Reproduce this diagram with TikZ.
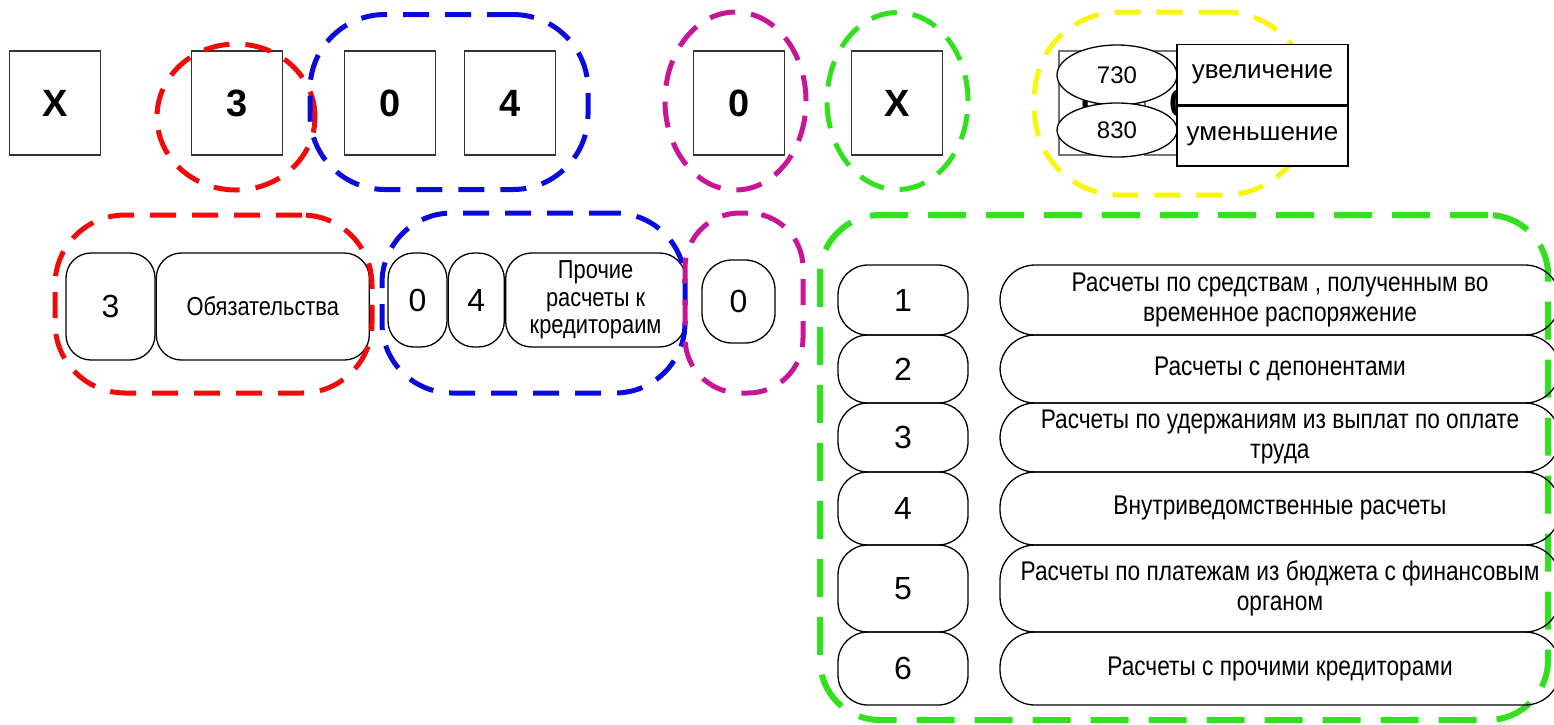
\documentclass[tikz,border=0pt]{standalone}
\usepackage{fontspec}
\setmainfont{Liberation Sans}
\newfontfamily\slimfont{Liberation Sans}[FakeStretch=0.84]
\usepackage{tikz}
\usetikzlibrary{shapes, positioning}
\definecolor{grpred}{RGB}{240,10,10}
\definecolor{grpblue}{RGB}{10,10,220}
\definecolor{grpmag}{RGB}{200,20,150}
\definecolor{grpgreen}{RGB}{50,225,30}
\definecolor{grpyellow}{RGB}{250,245,10}
\newcommand{\bigdig}{\fontsize{38}{40}\selectfont\bfseries}
\newcommand{\digfont}{\fontsize{32}{34}\selectfont}
\newcommand{\slimtext}{\slimfont\fontsize{26}{27.5}\selectfont}
\newcommand{\rowfont}{\slimfont\fontsize{27}{30}\selectfont}

\begin{document}
\begin{tikzpicture}[x=1pt, y=-1pt,
	digbox/.style={draw=black!80, line width=1.5pt, minimum width=91pt, minimum height=104pt, font=\bigdig},
	pill/.style={draw, line width=1.3pt, rounded corners=#1, inner sep=2pt, align=center},
	pill/.default=26pt,
	grp/.style={draw=#1, line width=5pt, dash pattern=on 26pt off 16pt}]
	\useasboundingbox (0,0) rectangle (1554,724);
	
	\node[digbox] (x1) at (55,103) {X};
	\node[digbox] (d3) at (237,103) {3};
	\node[digbox] (d0) at (390,103) {0};
	\node[digbox] (d4) at (510,103) {4};
	\node[digbox] (d00) at (739,103) {0};
	\node[digbox] (x2) at (897,103) {X};
	\node[digbox, draw=black!55, minimum width=66pt] (h1) at (1092,103) {0};
	\node[digbox, draw=black!55, minimum width=70pt] (h2) at (1180,103) {0};
	
	\node[grp=grpred, ellipse, minimum width=158pt, minimum height=146pt] (g3) at (236,117) {};
	\node[grp=grpblue, rounded corners=75pt, minimum width=278pt, minimum height=175pt] (g04) at (449,102) {};
	\node[grp=grpmag, ellipse, minimum width=141pt, minimum height=178pt] (g0) at (735.5,101) {};
	\node[grp=grpgreen, ellipse, minimum width=141pt, minimum height=177pt] (gx) at (897.5,101) {};
	\node[grp=grpyellow, rounded corners=85pt, minimum width=275pt, minimum height=183pt] (gy) at (1172,103.5) {};
	
	\node[draw, fill=white, ellipse, line width=1.3pt, minimum width=120pt, minimum height=60pt, font=\fontsize{24}{26}\selectfont] (e730) at (1117,75) {730};
	\node[draw, fill=white, ellipse, line width=1.3pt, minimum width=120pt, minimum height=54pt, font=\fontsize{24}{26}\selectfont] (e830) at (1117,130) {830};
	\node[draw, fill=white, line width=1.5pt, minimum width=171pt, minimum height=60pt, font=\fontsize{26}{28}\selectfont] (inc) at (1262.5,74.5) {увеличение};
	\node[draw, fill=white, line width=1.5pt, minimum width=171pt, minimum height=60pt, font=\fontsize{26}{28}\selectfont] (dec) [below=0pt of inc] {уменьшение};
	
	\node[pill=25pt, minimum width=89pt, minimum height=107pt, font=\digfont] (m3) at (110.5,306.5) {3};
	\node[pill=25pt, minimum width=213pt, minimum height=107pt, font=\slimtext] (mobl) [right=0pt of m3] {Обязательства};
	\node[pill, minimum width=59pt, minimum height=94pt, font=\digfont] (m0) at (417.5,300) {0};
	\node[pill, minimum width=56pt, minimum height=94pt, font=\digfont] (m4) [right=0pt of m0] {4};
	\node[pill, minimum width=180pt, minimum height=94pt, font=\slimtext] (mpr) [right=0pt of m4] {Прочие\\расчеты к\\кредитораим};
	\node[pill=30pt, minimum width=73pt, minimum height=83pt, font=\digfont] (mz) at (738.5,301.5) {0};
	
	\node[grp=grpred, rounded corners=70pt, minimum width=317pt, minimum height=178pt] (gm3) at (213.5,304) {};
	\node[grp=grpblue, rounded corners=70pt, minimum width=303pt, minimum height=180pt] (gm04) at (533.5,303) {};
	\node[grp=grpmag, rounded corners=55pt, minimum width=118pt, minimum height=180pt] (gm0) at (744,303) {};
	\node[grp=grpgreen, rounded corners=60pt, minimum width=728pt, minimum height=505pt, line width=6pt, dash pattern=on 38pt off 20pt] (gmx) at (1184,467.5) {};
	
	\node[pill=30pt, minimum width=130pt, minimum height=70pt, font=\digfont] (n1) at (903,300) {1};
	\node[pill=30pt, minimum width=130pt, minimum height=68pt, font=\digfont] (n2) at (903,369) {2};
	\node[pill=30pt, minimum width=130pt, minimum height=69pt, font=\digfont] (n3) at (903,437.5) {3};
	\node[pill=30pt, minimum width=130pt, minimum height=73pt, font=\digfont] (n4) at (903,508.5) {4};
	\node[pill=30pt, minimum width=130pt, minimum height=87pt, font=\digfont] (n5) at (903,588.5) {5};
	\node[pill=30pt, minimum width=130pt, minimum height=73pt, font=\digfont] (n6) at (903,668.5) {6};
	
	\node[pill=35pt, minimum width=560pt, minimum height=70pt, font=\rowfont] (t1) at (1280,300) {Расчеты по средствам , полученным во\\временное распоряжение};
	\node[pill=35pt, minimum width=560pt, minimum height=68pt, font=\rowfont] (t2) at (1280,369) {Расчеты с депонентами};
	\node[pill=35pt, minimum width=560pt, minimum height=69pt, font=\rowfont] (t3) at (1280,437.5) {Расчеты по удержаниям из выплат по оплате\\труда};
	\node[pill=35pt, minimum width=560pt, minimum height=73pt, font=\rowfont] (t4) at (1280,508.5) {Внутриведомственные расчеты};
	\node[pill=35pt, minimum width=560pt, minimum height=87pt, font=\rowfont] (t5) at (1280,588.5) {Расчеты по платежам из бюджета с финансовым\\органом};
	\node[pill=35pt, minimum width=560pt, minimum height=73pt, font=\rowfont] (t6) at (1280,668.5) {Расчеты с прочими кредиторами};
\end{tikzpicture}
\end{document}
